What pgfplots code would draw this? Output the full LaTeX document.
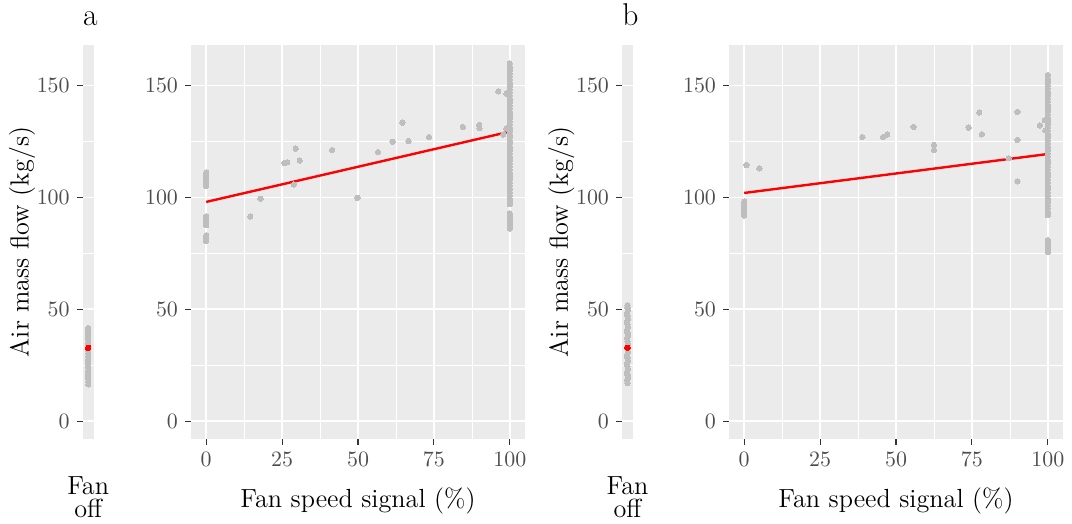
\documentclass[border=0pt]{standalone}
\usepackage{pgfplots}
\pgfplotsset{compat=1.18}
\definecolor{bggray}{HTML}{EBEBEB}
\definecolor{ptgray}{HTML}{BEBEBE}
\definecolor{tickgray}{HTML}{333333}
\definecolor{labgray}{HTML}{4D4D4D}
\newcommand{\tickfont}{\fontsize{10.5}{12}\selectfont}
\newcommand{\labfont}{\fontsize{13.1}{11.8}\selectfont}
\newcommand{\titfont}{\fontsize{15.75}{18}\selectfont}
\pgfplotsset{
  gg/.style={
    scale only axis, height=197pt,
    ymin=-8, ymax=168,
    ytick={0,50,100,150}, minor ytick={25,75,125},
    axis background/.style={fill=bggray},
    axis line style={draw=none},
    ymajorgrids, yminorgrids,
    major grid style={white, line width=0.7pt},
    minor grid style={white, line width=0.35pt},
    tick align=outside, tick pos=left,
    major tick length=3pt, minor tick length=0pt,
    tick style={color=tickgray, line width=0.55pt},
    tick label style={text=labgray, font=\tickfont},
    label style={font=\labfont},
    clip=false,
  },
  fanoff/.style={gg, width=5.5pt, xmin=0.4, xmax=1.6, xtick=\empty,
    ylabel={Air mass flow (kg/s)},
    every axis y label/.style={at={(axis description cs:-5.52,0.5)}, rotate=90, anchor=center, font=\labfont},
    xlabel={Fan\\off},
    every axis x label/.style={at={(axis description cs:0.5,-0.094)}, anchor=north, inner sep=0pt, align=center, font=\labfont},
  },
  mainax/.style={gg, width=167pt, xmin=-5, xmax=105,
    xtick={0,25,50,75,100}, minor xtick={12.5,37.5,62.5,87.5},
    xmajorgrids, xminorgrids,
    xlabel={Fan speed signal (\%)},
    every axis x label/.style={at={(axis description cs:0.5,-0.175)}, anchor=base, font=\labfont},
  },
  pts/.style={color=ptgray, only marks, mark=*, mark size=1.35pt, mark options={fill=ptgray, draw=ptgray, line width=0pt}},
  redpt/.style={color=red, only marks, mark=*, mark size=1.35pt, mark options={fill=red, draw=red, line width=0pt}},
  fit/.style={red, line width=1.2pt, no marks},
}
\pgfplotstableread{
x y
0 111
0 110
0 109
0 108
0 107
0 106.5
0 105.5
0 105
0 91.5
0 90.5
0 89.5
0 88.5
0 87.5
0 83
0 82
0 81
0 80.5
14.5 91.4
17.9 99.3
25.8 115.3
26.7 115.6
28.9 105.7
29.5 121.7
30.8 116.4
41.5 121.1
49.8 99.7
56.6 120.2
61.4 124.8
64.6 133.3
66.6 125.1
73.4 126.9
84.5 131.4
89.9 132.3
90.0 130.8
96.2 147.3
98.9 146.3
97.8 128
98.9 130.7
100 97.9
100 99.2
100 100.8
100 102.1
100 103.6
100 105.2
100 106.5
100 108.1
100 109.4
100 110.9
100 112.3
100 113.8
100 115.1
100 116.7
100 118.0
100 119.6
100 121.0
100 122.4
100 123.9
100 125.2
100 126.8
100 128.1
100 129.6
100 131.0
100 132.5
100 133.9
100 135.3
100 136.8
100 138.1
100 139.7
100 141.0
100 142.5
100 143.9
100 145.4
100 146.8
100 148.2
100 149.7
100 151.0
100 152.5
100 153.9
100 155.3
100 156.8
100 158.2
100 159.7
100 96.9
100 92.7
100 91.6
100 90.4
100 89.3
100 88.1
100 87.0
100 86.0
}\dataA
\pgfplotstableread{
x y
1 16.4
1 17.6
1 18.9
1 20.1
1 21.4
1 22.6
1 23.9
1 25.1
1 26.4
1 27.6
1 28.9
1 30.1
1 31.4
1 32.6
1 33.9
1 35.1
1 36.4
1 37.6
1 38.9
1 40.2
1 41.6
}\offA
\pgfplotstableread{
x y
0 98
0 97.5
0 96.5
0 95.5
0 94.5
0 93.5
0 92.5
0 91.8
0.8 114.4
5.0 112.9
38.9 126.9
45.7 126.9
47.1 128
55.8 131.4
62.5 123.4
62.5 121.1
73.9 131.1
77.4 137.8
78.3 128.1
87.1 117.4
90.0 138.1
90.0 125.6
90.0 107.1
97.4 132.1
99.0 134.4
99.2 129.9
100 92.0
100 93.4
100 94.9
100 96.3
100 97.8
100 99.2
100 100.7
100 102.1
100 103.6
100 105.0
100 106.5
100 107.9
100 109.4
100 110.8
100 112.3
100 113.7
100 115.2
100 116.6
100 118.1
100 119.5
100 121.0
100 122.4
100 123.9
100 125.3
100 126.8
100 128.2
100 129.7
100 131.1
100 132.6
100 134.0
100 135.5
100 136.9
100 138.4
100 139.8
100 141.3
100 142.7
100 144.2
100 145.6
100 147.1
100 148.5
100 150.0
100 151.4
100 152.9
100 154.5
100 80.8
100 79.5
100 78.2
100 76.9
100 75.6
}\dataB
\pgfplotstableread{
x y
1 17.0
0.95 18.2
1.05 19.5
1 20.7
0.95 22.0
1.05 23.2
1 24.5
0.95 25.7
1.05 27.0
1 28.2
0.95 29.5
1.05 30.7
1 32.0
0.95 33.2
1.05 34.5
1 35.7
0.95 37.0
1.05 38.2
1 39.5
0.95 40.7
1.05 42.0
1 43.2
0.95 44.5
1.05 45.7
1 47.0
0.95 48.2
1.05 49.5
1 50.7
1 51.8
}\offB
\begin{document}
\begin{tikzpicture}
\useasboundingbox (0,0) rectangle (536pt,262pt);
\node[anchor=base west, inner sep=0pt, font=\titfont] at (41.35pt,249.15pt) {a};
\node[anchor=base west, inner sep=0pt, font=\titfont] at (311pt,249.15pt) {b};
% panel a, fan off
\begin{axis}[fanoff, at={(41.35pt,42.5pt)}, anchor=south west]
\addplot[pts] table[x=x,y=y]{\offA};
\addplot[redpt] coordinates {(1,32.7)};
\end{axis}
% panel a, main
\begin{axis}[mainax, at={(95.5pt,42.5pt)}, anchor=south west]
\addplot[pts] table[x=x,y=y]{\dataA};
\addplot[fit] coordinates {(0,97.9) (100,129.3)};
\end{axis}
% panel b, fan off
\begin{axis}[fanoff, at={(311pt,42.5pt)}, anchor=south west]
\addplot[pts] table[x=x,y=y]{\offB};
\addplot[redpt] coordinates {(1,32.7)};
\end{axis}
% panel b, main
\begin{axis}[mainax, at={(364.5pt,42.5pt)}, anchor=south west]
\addplot[pts] table[x=x,y=y]{\dataB};
\addplot[fit] coordinates {(0,101.9) (100,119.3)};
\end{axis}
\end{tikzpicture}
\end{document}
